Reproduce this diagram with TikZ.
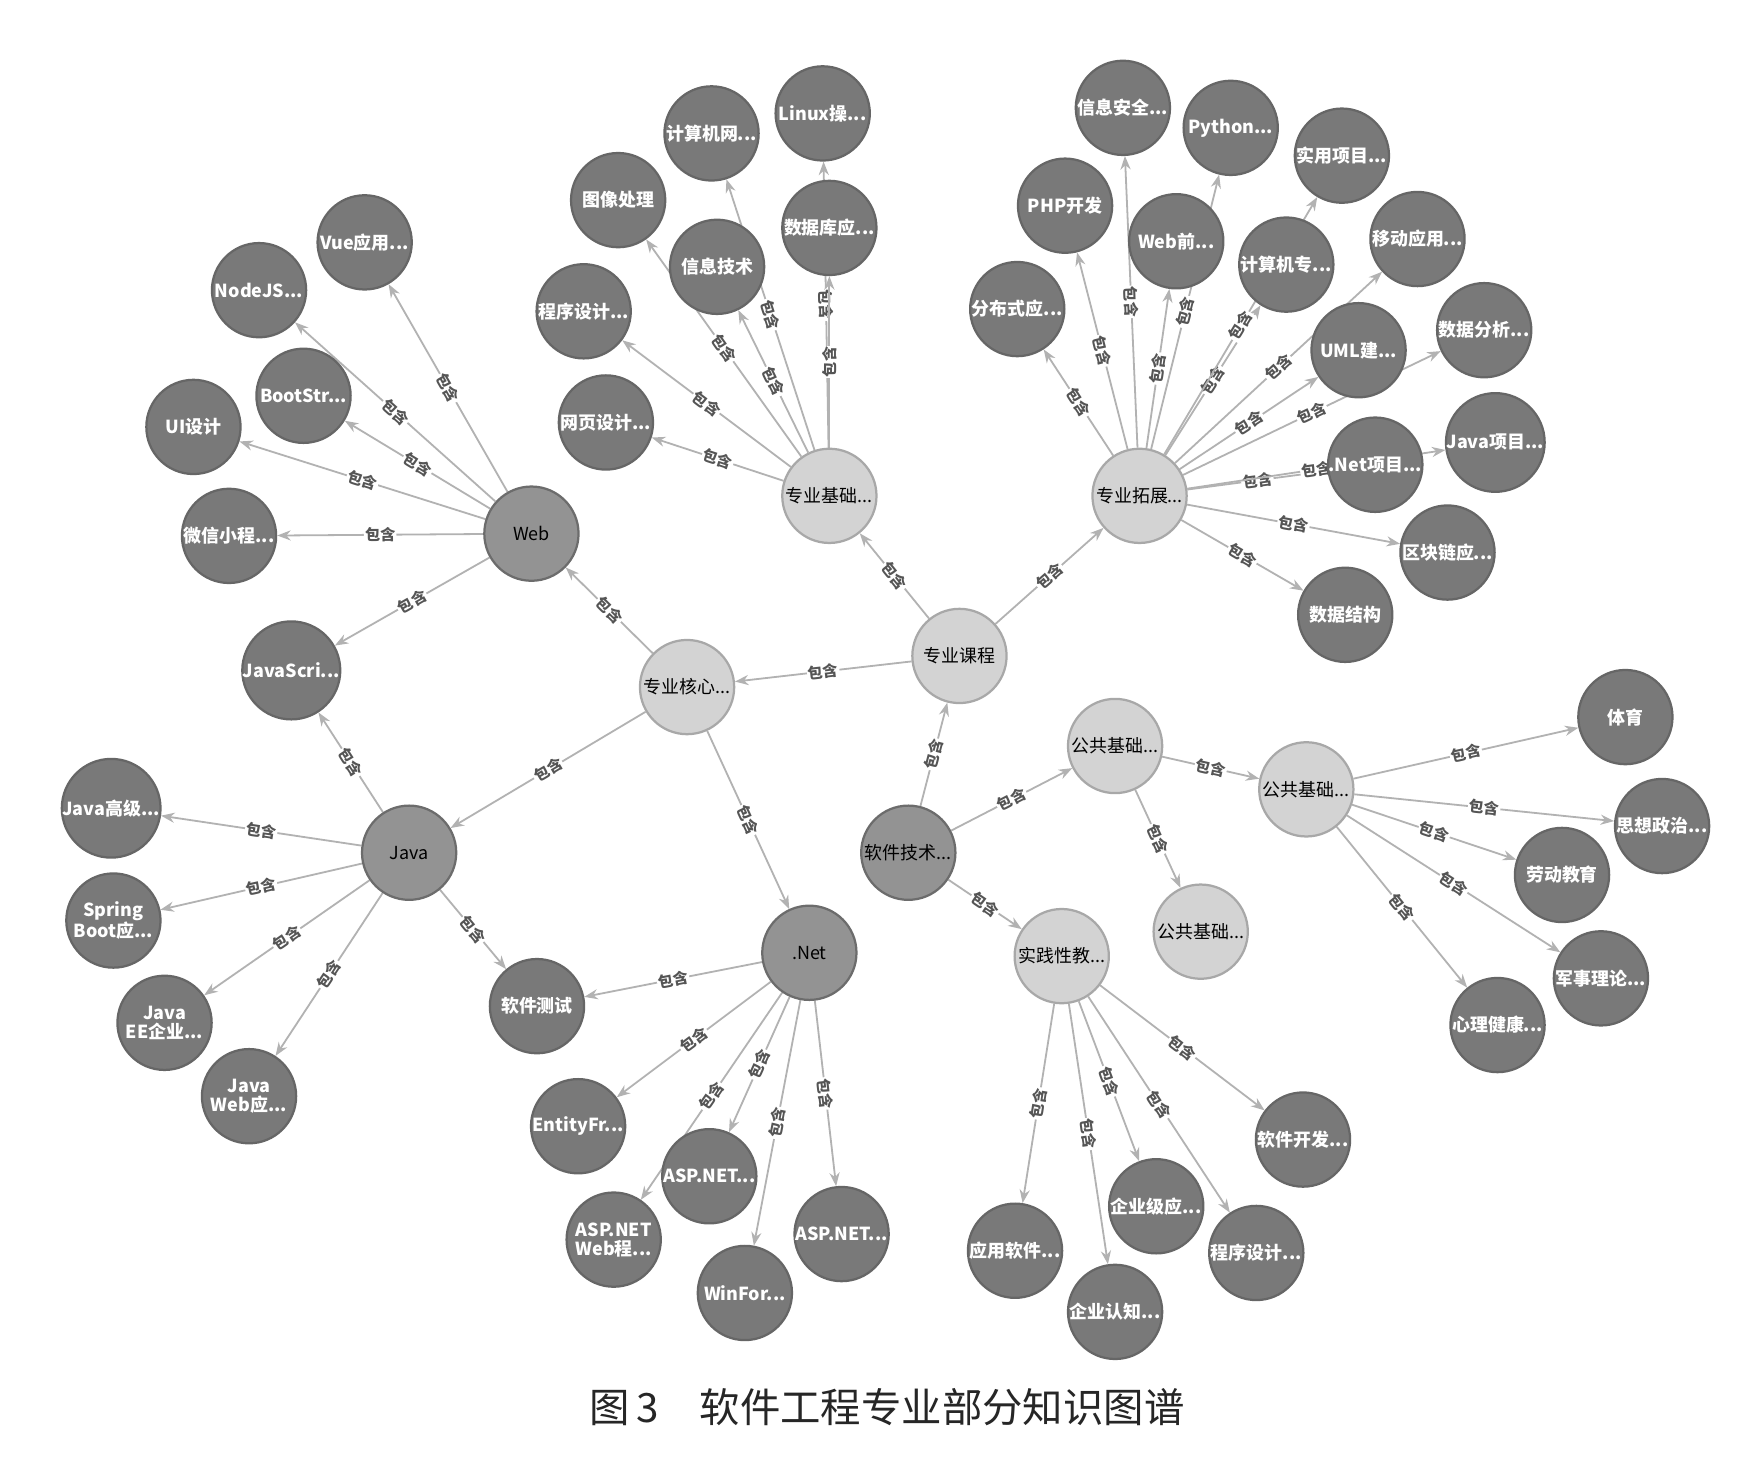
\documentclass[tikz,border=0pt]{standalone}
\usepackage{fontspec}
\newfontfamily\cjk{Noto Sans CJK SC}
\usetikzlibrary{arrows.meta}
\definecolor{dk}{HTML}{797979}
\definecolor{dkb}{HTML}{666666}
\definecolor{md}{HTML}{939393}
\definecolor{mdb}{HTML}{6C6C6C}
\definecolor{lt}{HTML}{D3D3D3}
\definecolor{ltb}{HTML}{A8A8A8}
\definecolor{eg}{HTML}{B2B2B2}
\definecolor{lb}{HTML}{555555}
\pgfdeclarelayer{bg}
\pgfsetlayers{bg,main}
\begin{document}
\begin{tikzpicture}[x=0.991pt,y=-0.991pt,
 base/.style={circle,minimum size=84pt,inner sep=0pt,line width=2pt,align=center,font=\cjk\fontsize{16}{17}\selectfont},
 dnode/.style={base,fill=dk,draw=dkb,text=white,font=\cjk\bfseries\fontsize{16}{17}\selectfont},
 mnode/.style={base,fill=md,draw=mdb,text=black},
 lnode/.style={base,fill=lt,draw=ltb,text=black},
 edge/.style={draw=eg,line width=1.6pt,-{Stealth[length=12pt,width=9pt]}},
 lbl/.style={sloped,fill=white,inner sep=1pt,font=\cjk\bfseries\fontsize{13.5}{13.5}\selectfont,text=lb}]
\useasboundingbox (0,0) rectangle (1566,1321);
% hubs
\node[lnode] (kc) at (863,590) {专业课程};
\node[lnode] (hx) at (618,618) {专业核心...};
\node[lnode] (jc) at (746,446) {专业基础...};
\node[lnode] (tz) at (1025,446) {专业拓展...};
\node[mnode] (rj) at (817,767) {软件技术...};
\node[lnode] (gA) at (1003,671) {公共基础...};
\node[lnode] (gB) at (1175,710) {公共基础...};
\node[lnode] (gC) at (1080,838) {公共基础...};
\node[lnode] (sj) at (955,860) {实践性教...};
\node[mnode] (web) at (478,480) {Web};
\node[mnode] (java) at (368,767) {Java};
\node[mnode] (net) at (728,857) {.Net};
% web children
\node[dnode] (vue) at (328,218) {Vue应用...};
\node[dnode] (nodejs) at (233,261) {NodeJS...};
\node[dnode] (boot) at (273,356) {BootStr...};
\node[dnode] (ui) at (174,384) {UI设计};
\node[dnode] (wx) at (206,482) {微信小程...};
\node[dnode] (js) at (262,603) {JavaScri...};
% java children
\node[dnode] (jg) at (100,727) {Java高级...};
\node[dnode] (sb) at (102,828) {Spring\\Boot应...};
\node[dnode] (ee) at (148,920) {Java\\EE企业...};
\node[dnode] (jw) at (224,986) {Java\\Web应...};
\node[dnode] (cs) at (483,905) {软件测试};
% net children
\node[dnode] (ef) at (520,1013) {EntityFr...};
\node[dnode] (aspa) at (638,1058) {ASP.NET...};
\node[dnode] (aspb) at (552,1115) {ASP.NET\\Web程...};
\node[dnode] (wf) at (670,1163) {WinFor...};
\node[dnode] (aspc) at (757,1110) {ASP.NET...};
% gB children
\node[dnode] (ty) at (1462,645) {体育};
\node[dnode] (sx) at (1495,743) {思想政治...};
\node[dnode] (ld) at (1405,787) {劳动教育};
\node[dnode] (jsl) at (1440,880) {军事理论...};
\node[dnode] (xl) at (1347,922) {心理健康...};
% sj children
\node[dnode] (kf) at (1172,1025) {软件开发...};
\node[dnode] (qy) at (1040,1085) {企业级应...};
\node[dnode] (cxb) at (1130,1127) {程序设计...};
\node[dnode] (yy) at (913,1125) {应用软件...};
\node[dnode] (rz) at (1003,1180) {企业认知...};
% jc children
\node[dnode] (wy) at (545,380) {网页设计...};
\node[dnode] (cx) at (525,280) {程序设计...};
\node[dnode] (tx) at (556,180) {图像处理};
\node[dnode] (xx) at (645,240) {信息技术};
\node[dnode] (jsw) at (640,120) {计算机网...};
\node[dnode] (lx) at (740,102) {Linux操...};
\node[dnode] (sjk) at (746,205) {数据库应...};
% tz children
\node[dnode] (fb) at (915,278) {分布式应...};
\node[dnode] (php) at (958,185) {PHP开发};
\node[dnode] (aq) at (1010,97) {信息安全...};
\node[dnode] (wq) at (1058,217) {Web前...};
\node[dnode] (py) at (1107,115) {Python...};
\node[dnode] (jz) at (1157,238) {计算机专...};
\node[dnode] (sy) at (1207,140) {实用项目...};
\node[dnode] (yd) at (1275,215) {移动应用...};
\node[dnode] (uml) at (1222,315) {UML建...};
\node[dnode] (fx) at (1335,297) {数据分析...};
\node[dnode] (np) at (1237,418) {.Net项目...};
\node[dnode] (jp) at (1345,398) {Java项目...};
\node[dnode] (qk) at (1302,497) {区块链应...};
\node[dnode] (sjjg) at (1210,553) {数据结构};
% caption
\node[font=\cjk\fontsize{36}{36}\selectfont,text=black!85] (cap) at (798,1266) {图\,3\quad 软件工程专业部分知识图谱};
\begin{pgfonlayer}{bg}
\fill[white] (0,0) rectangle (1566,1321);
\foreach \a/\b in {web/vue,web/nodejs,web/boot,web/ui,web/wx,web/js,
  hx/web,hx/java,hx/net,
  java/js,java/jg,java/sb,java/ee,java/jw,java/cs,
  net/cs,net/ef,net/aspa,net/aspb,net/wf,net/aspc,
  kc/hx,kc/jc,kc/tz,rj/kc,rj/gA,rj/sj,gA/gB,gA/gC,
  gB/ty,gB/sx,gB/ld,gB/jsl,gB/xl,
  sj/kf,sj/qy,sj/cxb,sj/yy,sj/rz,
  jc/wy,jc/cx,jc/tx,jc/xx,jc/jsw,jc/lx,jc/sjk,
  tz/fb,tz/php,tz/aq,tz/wq,tz/py,tz/jz,tz/sy,tz/yd,tz/uml,tz/fx,tz/np,tz/jp,tz/qk,tz/sjjg}
  \draw[edge] (\a) -- node[lbl]{包含} (\b);
\end{pgfonlayer}
\end{tikzpicture}
\end{document}
